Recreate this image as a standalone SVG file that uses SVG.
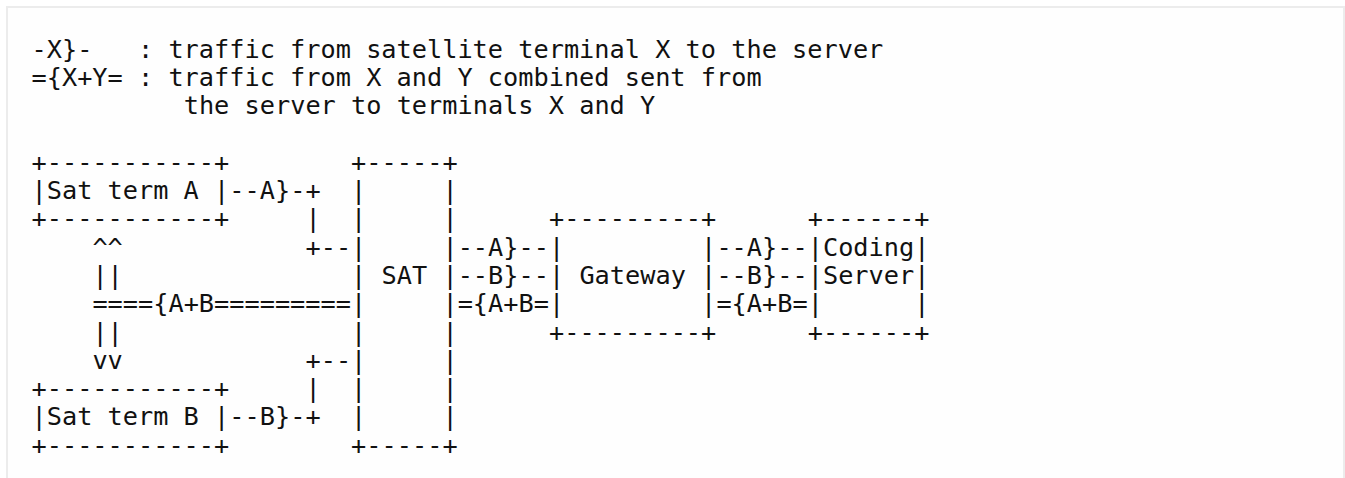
<svg xmlns="http://www.w3.org/2000/svg" width="1345" height="478" viewBox="0 0 1345 478" xml:space="preserve">
<style>
.t{font-family:"DejaVu Sans Mono","Liberation Mono",monospace;font-size:25.28px;fill:#111;white-space:pre}
</style>
<rect x="0" y="0" width="1345" height="478" fill="#ffffff"/>
<rect x="7" y="7" width="1337" height="520" fill="#fefefe" stroke="#ececec" stroke-width="2"/>
<g id="legend">
<text class="t" x="31.5" y="57.5">-X}-   : traffic from satellite terminal X to the server</text>
<text class="t" x="31.5" y="85.8">={X+Y= : traffic from X and Y combined sent from</text>
<text class="t" x="183.7" y="114.1">the server to terminals X and Y</text>
</g>
<g id="sat-term-a">
<text class="t" x="31.5" y="170.7">+-----------+</text>
<text class="t" x="31.5" y="199">|Sat term A |</text>
<text class="t" x="31.5" y="227.3">+-----------+</text>
</g>
<g id="sat-term-b">
<text class="t" x="31.5" y="397.1">+-----------+</text>
<text class="t" x="31.5" y="425.4">|Sat term B |</text>
<text class="t" x="31.5" y="453.7">+-----------+</text>
</g>
<g id="sat">
<text class="t" x="351.12" y="170.7">+-----+</text>
<text class="t" x="351.12" y="199">|     |</text>
<text class="t" x="351.12" y="227.3">|     |</text>
<text class="t" x="351.12" y="255.6">|     |</text>
<text class="t" x="351.12" y="283.9">| SAT |</text>
<text class="t" x="351.12" y="312.2">|     |</text>
<text class="t" x="351.12" y="340.5">|     |</text>
<text class="t" x="351.12" y="368.8">|     |</text>
<text class="t" x="351.12" y="397.1">|     |</text>
<text class="t" x="351.12" y="425.4">|     |</text>
<text class="t" x="351.12" y="453.7">+-----+</text>
</g>
<g id="gateway">
<text class="t" x="548.98" y="227.3">+---------+</text>
<text class="t" x="548.98" y="255.6">|         |</text>
<text class="t" x="548.98" y="283.9">| Gateway |</text>
<text class="t" x="548.98" y="312.2">|         |</text>
<text class="t" x="548.98" y="340.5">+---------+</text>
</g>
<g id="coding-server">
<text class="t" x="807.72" y="227.3">+------+</text>
<text class="t" x="807.72" y="255.6">|Coding|</text>
<text class="t" x="807.72" y="283.9">|Server|</text>
<text class="t" x="807.72" y="312.2">|      |</text>
<text class="t" x="807.72" y="340.5">+------+</text>
</g>
<g id="connectors">
<text class="t" x="229.36" y="199">--A}-+</text>
<text class="t" x="305.46" y="227.3">|</text>
<text class="t" x="305.46" y="255.6">+--</text>
<text class="t" x="305.46" y="368.8">+--</text>
<text class="t" x="305.46" y="397.1">|</text>
<text class="t" x="229.36" y="425.4">--B}-+</text>
<text class="t" x="92.38" y="255.6">^^</text>
<text class="t" x="92.38" y="283.9">||</text>
<text class="t" x="92.38" y="312.2">===={A+B=========</text>
<text class="t" x="92.38" y="340.5">||</text>
<text class="t" x="92.38" y="368.8">vv</text>
<text class="t" x="457.66" y="255.6">--A}--</text>
<text class="t" x="457.66" y="283.9">--B}--</text>
<text class="t" x="457.66" y="312.2">={A+B=</text>
<text class="t" x="716.4" y="255.6">--A}--</text>
<text class="t" x="716.4" y="283.9">--B}--</text>
<text class="t" x="716.4" y="312.2">={A+B=</text>
</g>
</svg>
